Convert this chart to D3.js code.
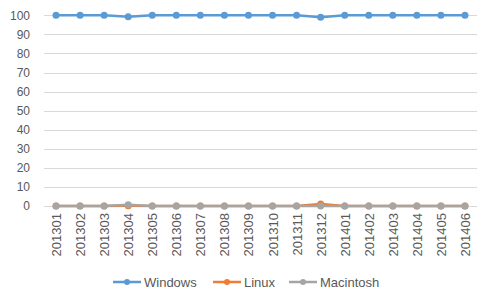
<!DOCTYPE html>
<html>
<head>
<meta charset="utf-8">
<script src="https://cdn.jsdelivr.net/npm/d3@7"></script>
<style>
  body { margin: 0; background: #fff; }
  text { font-family: "Liberation Sans", Arial, sans-serif; fill: #595959; }
</style>
</head>
<body>
<div id="chart"></div>
<script>
// data
var months = ['201301','201302','201303','201304','201305','201306','201307','201308','201309',
              '201310','201311','201312','201401','201402','201403','201404','201405','201406'];
var windows   = [100,100,100,99.3,100,100,100,100,100,100,100,99,100,100,100,100,100,100];
var linux     = [0,0,0,0.1,0,0,0,0,0,0,0,1,0,0,0,0,0,0];
var macintosh = [0,0,0,0.6,0,0,0,0,0,0,0,0,0,0,0,0,0,0];
var yTicks = [0,10,20,30,40,50,60,70,80,90,100];

var series = [
  { name: 'Windows',   values: windows,   color: '#5B9BD5' },
  { name: 'Linux',     values: linux,     color: '#ED7D31' },
  { name: 'Macintosh', values: macintosh, color: '#A5A5A5' }
];

var W = 492, H = 303;
var svg = d3.select('#chart').append('svg')
    .attr('width', W)
    .attr('height', H);

var x = d3.scaleBand()
    .domain(months)
    .range([44, 477]);

var y = d3.scaleLinear()
    .domain([0, 100])
    .range([206, 15.3]);

// gridlines
svg.append('g').selectAll('line')
    .data(yTicks)
    .enter().append('line')
    .attr('x1', x.range()[0])
    .attr('x2', x.range()[1])
    .attr('y1', d => Math.round(y(d)) + 0.5)
    .attr('y2', d => Math.round(y(d)) + 0.5)
    .attr('stroke', '#D9D9D9')
    .attr('stroke-width', 1);

// y axis labels
var yAxis = d3.axisLeft(y).tickValues(yTicks).tickSize(0).tickPadding(0);
var gy = svg.append('g')
    .attr('transform', 'translate(30,0)')
    .call(yAxis);
gy.select('.domain').remove();
gy.selectAll('text')
    .attr('font-size', 12)
    .attr('font-family', '"Liberation Sans", Arial, sans-serif')
    .attr('fill', '#595959');

// x axis labels (rotated)
var xAxis = d3.axisBottom(x).tickSize(0).tickPadding(0);
var gx = svg.append('g')
    .attr('transform', 'translate(0,206)')
    .call(xAxis);
gx.select('.domain').remove();
gx.selectAll('text')
    .attr('font-size', 13)
    .attr('font-family', '"Liberation Sans", Arial, sans-serif')
    .attr('fill', '#595959')
    .attr('text-anchor', 'end')
    .attr('dy', null)
    .attr('y', 0)
    .attr('transform', 'translate(5,7) rotate(-90)')
    .attr('dx', 0);

// lines + markers
var line = d3.line()
    .x((d, i) => x(months[i]) + x.bandwidth() / 2)
    .y(d => y(d));

series.forEach(function(s) {
  var g = svg.append('g');
  g.append('path')
    .datum(s.values)
    .attr('d', line)
    .attr('fill', 'none')
    .attr('stroke', s.color)
    .attr('stroke-width', 2.5)
    .attr('stroke-linejoin', 'round');
  g.selectAll('circle')
    .data(s.values)
    .enter().append('circle')
    .attr('cx', (d, i) => x(months[i]) + x.bandwidth() / 2)
    .attr('cy', d => y(d))
    .attr('r', 3.5)
    .attr('fill', s.color);
});

// legend
var legendX = [113, 213, 289];
var legend = svg.append('g');
series.forEach(function(s, i) {
  var lg = legend.append('g').attr('transform', 'translate(' + legendX[i] + ',282)');
  lg.append('line')
    .attr('x1', 0).attr('x2', 28)
    .attr('y1', 0).attr('y2', 0)
    .attr('stroke', s.color)
    .attr('stroke-width', 2.5);
  lg.append('circle')
    .attr('cx', 14).attr('cy', 0).attr('r', 3)
    .attr('fill', s.color);
  lg.append('text')
    .attr('x', 31)
    .attr('y', 4.5)
    .attr('font-size', 13)
    .text(s.name);
});
</script>
</body>
</html>
